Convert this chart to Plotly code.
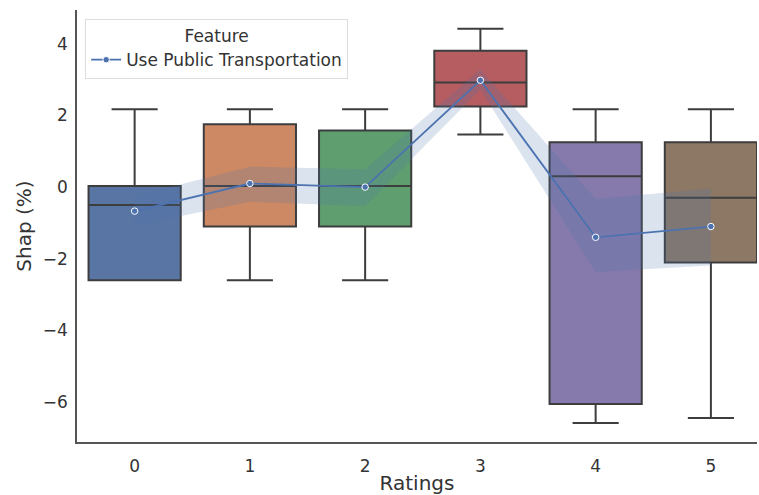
import plotly.graph_objects as go

ratings = [0, 1, 2, 3, 4, 5]
tick_labels = ["0", "1", "2", "3", "4", "5"]

# box statistics (Shap %)
q1 = [-2.6, -1.1, -1.1, 2.25, -6.05, -2.1]
median = [-0.5, 0.03, 0.03, 2.92, 0.3, -0.3]
q3 = [0.03, 1.75, 1.58, 3.8, 1.25, 1.25]
lower_fence = [-2.6, -2.6, -2.6, 1.47, -6.58, -6.44]
upper_fence = [2.17, 2.17, 2.17, 4.42, 2.17, 2.17]

# mean line with confidence band
mean_vals = [-0.67, 0.1, 0.0, 2.98, -1.4, -1.1]
ci_low = [-1.08, -0.41, -0.53, 2.72, -2.37, -2.19]
ci_high = [-0.25, 0.57, 0.5, 3.28, -0.33, -0.04]

box_colors = ["#5975a4", "#cc8963", "#5f9e6e", "#b55d60", "#857aab", "#8d7866"]
line_color = "#4C72B0"
edge = "#3d3d3d"
font_family = "DejaVu Sans"
fs = 17

fig = go.Figure()

for i, r in enumerate(ratings):
    fig.add_trace(go.Box(
        x=[r], q1=[q1[i]], median=[median[i]], q3=[q3[i]],
        lowerfence=[lower_fence[i]], upperfence=[upper_fence[i]],
        width=0.8, whiskerwidth=0.5,
        fillcolor=box_colors[i],
        line=dict(color=edge, width=2),
        boxpoints=False, showlegend=False, hoverinfo="skip",
    ))

band_x = ratings + ratings[::-1]
band_y = ci_high + ci_low[::-1]
fig.add_trace(go.Scatter(
    x=band_x, y=band_y, fill="toself", mode="lines",
    line=dict(width=0), fillcolor="rgba(76,114,176,0.2)",
    showlegend=False, hoverinfo="skip",
))

fig.add_trace(go.Scatter(
    x=ratings, y=mean_vals, mode="lines+markers",
    name="Use Public Transportation",
    line=dict(color=line_color, width=1.8),
    marker=dict(size=6.5, color=line_color, line=dict(color="white", width=1)),
))

fig.update_layout(
    width=759, height=495,
    margin=dict(l=77, r=2, t=10, b=51),
    paper_bgcolor="white", plot_bgcolor="white",
    boxmode="overlay",
    font=dict(family=font_family, size=fs, color="#333333"),
    legend=dict(
        title=dict(text="Feature", side="top center", font=dict(size=fs, color="#333333")),
        x=0.012, y=0.979, xanchor="left", yanchor="top",
        bgcolor="rgba(255,255,255,0.85)", bordercolor="#dddddd", borderwidth=1,
        font=dict(size=fs, color="#333333"),
        itemwidth=30, entrywidth=232, entrywidthmode="pixels",
    ),
    showlegend=True,
)

fig.update_xaxes(
    range=[-0.5, 5.4], tickvals=ratings, ticktext=tick_labels,
    showgrid=False, zeroline=False, showline=True, linecolor="#555555", linewidth=1.5,
    ticks="", ticklabelstandoff=8,
    title=dict(text="Ratings", standoff=3),
)
fig.update_yaxes(
    range=[-7.11, 4.94], tickvals=[-6, -4, -2, 0, 2, 4],
    ticktext=["\u22126", "\u22124", "\u22122", "0", "2", "4"],
    showgrid=False, zeroline=False, showline=True, linecolor="#555555", linewidth=1.5,
    ticks="", ticklabelstandoff=4,
    title=dict(text="Shap (%)", standoff=6),
)

fig.write_html("out.html")
